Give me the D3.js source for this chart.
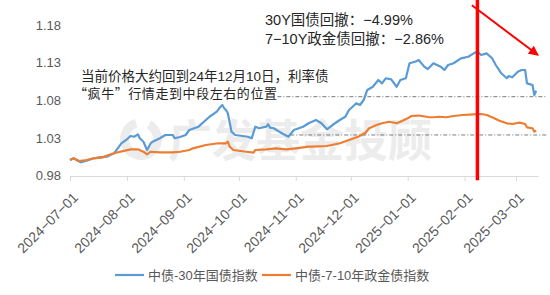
<!DOCTYPE html>
<html>
<head>
<meta charset="utf-8">
<script src="https://cdn.jsdelivr.net/npm/d3@7"></script>
<style>
  body { margin: 0; background: #fff; }
  svg text { font-family: "Liberation Sans", "Noto Sans CJK SC", sans-serif; }
</style>
</head>
<body>
<svg id="chart"></svg>
<script>
const width = 550;
const height = 295;

// 中债-30年国债指数
const bond30 = [
  ["2024-07-01",1.0008],["2024-07-03",1.0031],["2024-07-05",0.9999],["2024-07-07",0.9978],
  ["2024-07-10",0.9999],["2024-07-14",1.0031],["2024-07-17",1.0044],["2024-07-21",1.0052],
  ["2024-07-25",1.0097],["2024-07-27",1.0163],["2024-07-29",1.0230],["2024-08-01",1.0283],
  ["2024-08-03",1.0327],["2024-08-05",1.0317],["2024-08-07",1.0349],["2024-08-08",1.0296],
  ["2024-08-10",1.0251],["2024-08-12",1.0141],["2024-08-14",1.0230],["2024-08-15",1.0251],
  ["2024-08-19",1.0296],["2024-08-22",1.0340],["2024-08-26",1.0340],["2024-08-27",1.0296],
  ["2024-08-30",1.0313],["2024-09-02",1.0340],["2024-09-04",1.0406],["2024-09-09",1.0450],
  ["2024-09-15",1.0582],["2024-09-19",1.0649],["2024-09-21",1.0715],["2024-09-22",1.0738],
  ["2024-09-23",1.0694],["2024-09-24",1.0671],["2024-09-25",1.0628],["2024-09-27",1.0384],
  ["2024-09-29",1.0340],["2024-10-06",1.0317],["2024-10-08",1.0296],["2024-10-10",1.0450],
  ["2024-10-12",1.0429],["2024-10-16",1.0450],["2024-10-17",1.0482],["2024-10-18",1.0437],
  ["2024-10-20",1.0429],["2024-10-23",1.0384],["2024-10-28",1.0317],["2024-10-31",1.0406],
  ["2024-11-05",1.0450],["2024-11-08",1.0495],["2024-11-12",1.0539],["2024-11-15",1.0495],
  ["2024-11-18",1.0415],["2024-11-21",1.0472],["2024-11-25",1.0539],["2024-11-28",1.0582],
  ["2024-11-30",1.0671],["2024-12-02",1.0715],["2024-12-04",1.0760],["2024-12-06",1.0738],
  ["2024-12-08",1.0804],["2024-12-10",1.0937],["2024-12-13",1.0980],["2024-12-16",1.1069],
  ["2024-12-18",1.1025],["2024-12-20",1.1092],["2024-12-23",1.1078],["2024-12-26",1.0980],
  ["2024-12-28",1.1069],["2024-12-31",1.1092],["2025-01-02",1.1291],["2025-01-05",1.1312],
  ["2025-01-07",1.1334],["2025-01-10",1.1246],["2025-01-12",1.1215],["2025-01-15",1.1291],
  ["2025-01-17",1.1268],["2025-01-19",1.1246],["2025-01-21",1.1202],["2025-01-23",1.1268],
  ["2025-01-26",1.1291],["2025-01-30",1.1357],["2025-02-03",1.1378],["2025-02-06",1.1423],
  ["2025-02-08",1.1445],["2025-02-10",1.1401],["2025-02-13",1.1423],["2025-02-16",1.1357],
  ["2025-02-18",1.1268],["2025-02-21",1.1158],["2025-02-24",1.1092],["2025-02-25",1.1122],
  ["2025-02-27",1.1105],["2025-03-02",1.1179],["2025-03-04",1.1202],["2025-03-06",1.1202],
  ["2025-03-07",1.1025],["2025-03-10",1.1003],["2025-03-11",1.0870],["2025-03-12",1.0927]
];

// 中债-7-10年政金债指数
const bond710 = [
  ["2024-07-01",1.0008],["2024-07-03",1.0031],["2024-07-06",0.9995],["2024-07-10",1.0008],
  ["2024-07-14",1.0031],["2024-07-19",1.0044],["2024-07-22",1.0075],["2024-07-26",1.0105],
  ["2024-07-31",1.0132],["2024-08-03",1.0150],["2024-08-07",1.0150],["2024-08-10",1.0118],
  ["2024-08-12",1.0084],["2024-08-14",1.0118],["2024-08-19",1.0110],["2024-08-26",1.0110],
  ["2024-08-30",1.0118],["2024-09-04",1.0141],["2024-09-06",1.0163],["2024-09-13",1.0207],
  ["2024-09-20",1.0230],["2024-09-24",1.0230],["2024-09-25",1.0251],["2024-09-26",1.0185],
  ["2024-09-28",1.0141],["2024-10-05",1.0118],["2024-10-09",1.0105],["2024-10-10",1.0141],
  ["2024-10-16",1.0150],["2024-10-21",1.0163],["2024-10-27",1.0150],["2024-11-01",1.0163],
  ["2024-11-08",1.0185],["2024-11-10",1.0185],["2024-11-18",1.0194],["2024-11-25",1.0230],
  ["2024-11-30",1.0273],["2024-12-05",1.0317],["2024-12-09",1.0370],["2024-12-11",1.0429],
  ["2024-12-15",1.0472],["2024-12-18",1.0495],["2024-12-22",1.0516],["2024-12-26",1.0495],
  ["2024-12-28",1.0516],["2025-01-01",1.0561],["2025-01-03",1.0592],["2025-01-07",1.0598],
  ["2025-01-12",1.0578],["2025-01-15",1.0575],["2025-01-18",1.0582],["2025-01-22",1.0575],
  ["2025-01-26",1.0592],["2025-01-31",1.0605],["2025-02-06",1.0614],["2025-02-10",1.0618],
  ["2025-02-13",1.0605],["2025-02-16",1.0575],["2025-02-20",1.0529],["2025-02-24",1.0495],
  ["2025-02-27",1.0486],["2025-03-03",1.0503],["2025-03-06",1.0486],["2025-03-07",1.0442],
  ["2025-03-10",1.0429],["2025-03-11",1.0384],["2025-03-12",1.0398]
];

const yTicks = [0.98, 1.03, 1.08, 1.13, 1.18];
const xTicks = ["2024-07-01","2024-08-01","2024-09-01","2024-10-01","2024-11-01",
                "2024-12-01","2025-01-01","2025-02-01","2025-03-01"];
const seriesNames = ["中债-30年国债指数", "中债-7-10年政金债指数"];
const colors = ["#5b9bd5", "#ed7d31"];

// reference levels (24年12月10日)
const refLevels = [
  { from: "2024-10-22", to: "2025-03-18", value: 1.0848 },
  { from: "2024-10-29", to: "2025-03-18", value: 1.0340 }
];
const peakDate = "2025-02-08";
const notes = ["30Y国债回撤：−4.99%", "7−10Y政金债回撤：−2.86%"];
const comment = ["当前价格大约回到24年12月10日，利率债", "“疯牛”行情走到中段左右的位置"];

const parse = d3.timeParse("%Y-%m-%d");

const x = d3.scaleTime()
  .domain([parse("2024-07-01"), parse("2025-03-13")])
  .range([70, 538]);
const y = d3.scaleLinear()
  .domain([0.98, 1.18])
  .range([175.7, 24.9]);

const svg = d3.select("#chart")
  .attr("width", width)
  .attr("height", height);

svg.append("rect").attr("width", width).attr("height", height).attr("fill", "#fff");

// watermark
const wm = svg.append("g").attr("fill", "#ececec").attr("stroke", "#ececec");
wm.append("path")
  .attr("d", d3.arc()({ innerRadius: 12, outerRadius: 21, startAngle: 0.5, endAngle: 2 * Math.PI - 0.3 }))
  .attr("transform", "translate(141,139)")
  .attr("stroke", "none");
wm.append("text")
  .attr("x", 168).attr("y", 157)
  .attr("stroke", "none")
  .style("font-size", "44px")
  .style("font-weight", "bold")
  .style("font-family", "'Noto Sans CJK SC', sans-serif")
  .text("广发基金投顾");

// x axis
const xAxis = d3.axisBottom(x)
  .tickValues(xTicks.map(parse))
  .tickFormat(d => d3.timeFormat("%Y-%m-%d")(d).replace(/-/g, "−"))
  .tickSize(5)
  .tickSizeOuter(0);

const gx = svg.append("g")
  .attr("transform", "translate(0,176)")
  .call(xAxis);
gx.select(".domain").attr("stroke", "#d9d9d9");
gx.selectAll(".tick line").attr("stroke", "#d9d9d9");
gx.selectAll(".tick text")
  .attr("fill", "#595959")
  .style("font-size", "14px")
  .attr("text-anchor", "end")
  .attr("x", 0).attr("y", 0).attr("dy", "0.35em")
  .attr("transform", "translate(5,19) rotate(-45)");

// y axis
const yAxis = d3.axisLeft(y)
  .tickValues(yTicks)
  .tickFormat(d3.format(".2f"))
  .tickSize(0);
const gy = svg.append("g")
  .attr("transform", "translate(61,0)")
  .call(yAxis);
gy.select(".domain").remove();
gy.selectAll(".tick text")
  .attr("fill", "#595959")
  .attr("x", 0)
  .style("font-size", "13px");

// reference dash-dot lines
svg.selectAll(".ref")
  .data(refLevels)
  .enter()
  .append("line")
  .attr("class", "ref")
  .attr("x1", d => x(parse(d.from)))
  .attr("x2", d => x(parse(d.to)))
  .attr("y1", d => y(d.value))
  .attr("y2", d => y(d.value))
  .attr("stroke", "#595959")
  .attr("stroke-width", 0.8)
  .attr("stroke-dasharray", "4,2,1,2");

// series lines
const line = d3.line()
  .x(d => x(parse(d[0])))
  .y(d => y(d[1]));

[bond30, bond710].forEach((data, i) => {
  svg.append("path")
    .datum(data)
    .attr("fill", "none")
    .attr("stroke", colors[i])
    .attr("stroke-width", 2.2)
    .attr("stroke-linejoin", "round")
    .attr("d", line);
});

// red vertical line at the peak
svg.append("line")
  .attr("x1", x(parse(peakDate))).attr("x2", x(parse(peakDate)))
  .attr("y1", y(1.218)).attr("y2", y(0.974))
  .attr("stroke", "#ff0000")
  .attr("stroke-width", 3.5);

// red arrow
svg.append("defs").append("marker")
  .attr("id", "arrow")
  .attr("viewBox", "0 0 10 10")
  .attr("refX", 9).attr("refY", 5)
  .attr("markerWidth", 5.5).attr("markerHeight", 5)
  .attr("orient", "auto")
  .append("path")
  .attr("d", "M0,0 L10,5 L0,10 z")
  .attr("fill", "#ff0000");

svg.append("line")
  .attr("x1", x(parse("2025-02-05"))).attr("y1", y(1.206))
  .attr("x2", x(parse("2025-03-13"))).attr("y2", y(1.14))
  .attr("stroke", "#ff0000")
  .attr("stroke-width", 2)
  .attr("marker-end", "url(#arrow)");

// annotation texts
svg.selectAll(".note")
  .data(notes)
  .enter()
  .append("text")
  .attr("class", "note")
  .attr("x", 265)
  .attr("y", (d, i) => 20 + i * 19)
  .attr("dy", "0.35em")
  .attr("fill", "#262626")
  .style("font-size", "14.5px")
  .text(d => d);

svg.selectAll(".comment")
  .data(comment)
  .enter()
  .append("text")
  .attr("class", "comment")
  .attr("x", (d, i) => i === 0 ? 81 : 74)
  .attr("y", (d, i) => 76 + i * 17)
  .attr("dy", "0.35em")
  .attr("fill", "#262626")
  .style("font-size", (d, i) => i === 0 ? "13.5px" : "13px")
  .style("font-family", (d, i) => i === 1 ? "'Noto Sans CJK SC', sans-serif" : null)
  .attr("textLength", (d, i) => i === 1 ? 203 : null)
  .text(d => d);

// legend
const legendX = [115, 262];
const legend = svg.selectAll(".legend")
  .data(seriesNames)
  .enter()
  .append("g")
  .attr("class", "legend")
  .attr("transform", (d, i) => `translate(${legendX[i]},275)`);
legend.append("line")
  .attr("x1", 0).attr("x2", 29)
  .attr("stroke", (d, i) => colors[i])
  .attr("stroke-width", 2.2);
legend.append("text")
  .attr("x", 33)
  .attr("dy", "0.35em")
  .attr("fill", "#595959")
  .style("font-size", "13px")
  .text(d => d);
</script>
</body>
</html>
